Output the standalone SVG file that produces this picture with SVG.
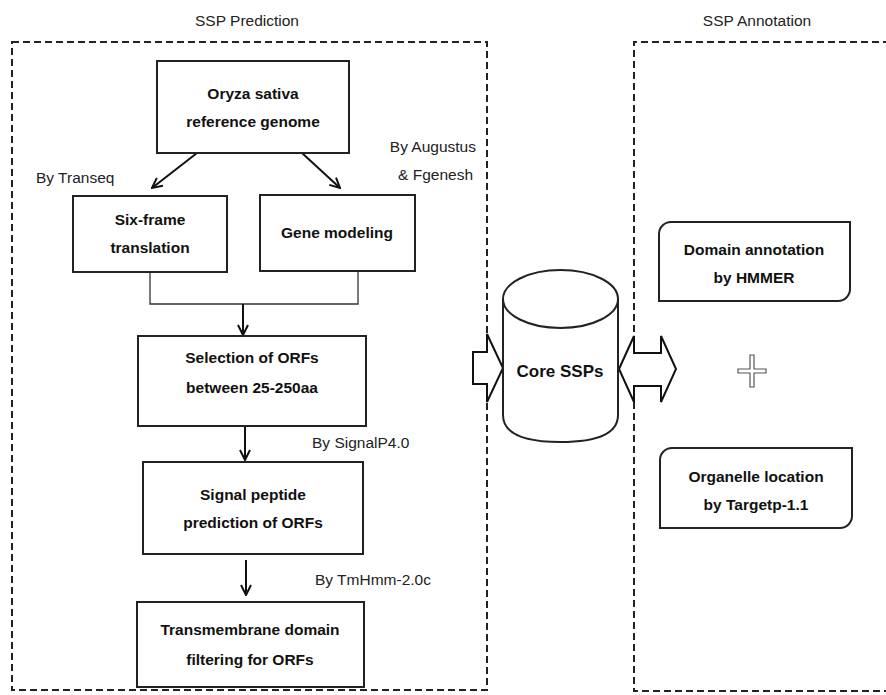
<svg xmlns="http://www.w3.org/2000/svg" width="886" height="695" viewBox="0 0 886 695">
<defs>
<style>
.t{font-family:"Liberation Sans",Arial,sans-serif;font-size:15.5px;fill:#222;}
.b{font-family:"Liberation Sans",Arial,sans-serif;font-size:15.5px;font-weight:bold;fill:#111;text-anchor:middle;}
.box{fill:#fff;stroke:#222;stroke-width:2;}
.dash{fill:none;stroke:#222;stroke-width:2;stroke-dasharray:7 4;}
.ln{fill:none;stroke:#111;stroke-width:2;}
.thin{fill:none;stroke:#333;stroke-width:1.3;}
.blk{fill:#fff;stroke:#111;stroke-width:2;stroke-linejoin:miter;}
</style>
<marker id="ah" viewBox="0 0 12 12" refX="11" refY="6" markerWidth="12" markerHeight="12" markerUnits="userSpaceOnUse" orient="auto">
<path d="M1,1 L11,6 L1,11" fill="none" stroke="#111" stroke-width="2"/>
</marker>
</defs>
<rect width="886" height="695" fill="#fff"/>

<g id="frames">
<rect class="dash" x="12" y="42" width="475" height="648"/>
<path class="dash" d="M890,42 H634 V691 H890"/>
<text class="t" x="247" y="26" text-anchor="middle">SSP Prediction</text>
<text class="t" x="757" y="26" text-anchor="middle">SSP Annotation</text>
</g>

<g id="connectors">
<line class="ln" x1="197" y1="153" x2="152" y2="188" marker-end="url(#ah)"/>
<line class="ln" x1="302" y1="153" x2="340" y2="188" marker-end="url(#ah)"/>
<path class="thin" d="M150,272 V304 H358 V271"/>
<line class="ln" x1="243" y1="304" x2="243" y2="335" marker-end="url(#ah)"/>
<line class="ln" x1="245" y1="426" x2="245" y2="460" marker-end="url(#ah)"/>
<line class="ln" x1="246" y1="560" x2="246" y2="595" marker-end="url(#ah)"/>
<path class="blk" d="M473,352 H487 V334 L503,368 L487,402 V384 H473 Z"/>
<path class="blk" d="M619,369 L634,336 V353 H661 V336 L676,369 L661,402 V386 H634 V402 Z"/>
<text class="t" x="36" y="183">By Transeq</text>
<text class="t" x="476" y="152" text-anchor="end">By Augustus</text>
<text class="t" x="473" y="180" text-anchor="end">&amp; Fgenesh</text>
<text class="t" x="312" y="448">By SignalP4.0</text>
<text class="t" x="315" y="585">By TmHmm-2.0c</text>
</g>

<g id="oryza">
<rect class="box" x="157" y="61" width="192" height="92"/>
<text class="b" x="253" y="99">Oryza sativa</text>
<text class="b" x="253" y="127">reference genome</text>
</g>

<g id="sixframe">
<rect class="box" x="73" y="196" width="154" height="76"/>
<text class="b" x="150" y="225">Six-frame</text>
<text class="b" x="150" y="253">translation</text>
</g>

<g id="genemodeling">
<rect class="box" x="260" y="195" width="155" height="76"/>
<text class="b" x="337" y="238">Gene modeling</text>
</g>

<g id="selection">
<rect class="box" x="138" y="336" width="228" height="90"/>
<text class="b" x="252" y="363">Selection of ORFs</text>
<text class="b" x="252" y="393">between 25-250aa</text>
</g>

<g id="signal">
<rect class="box" x="143" y="462" width="220" height="92"/>
<text class="b" x="253" y="500">Signal peptide</text>
<text class="b" x="253" y="528">prediction of ORFs</text>
</g>

<g id="transmembrane">
<rect class="box" x="137" y="602" width="227" height="85"/>
<text class="b" x="250" y="635">Transmembrane domain</text>
<text class="b" x="250" y="665">filtering for ORFs</text>
</g>

<g id="core">
<path class="box" d="M503,299 V415 Q503,442 560.5,442 Q618,442 618,415 V299"/>
<ellipse class="box" cx="560.5" cy="299" rx="57.5" ry="29"/>
<text class="b" x="560" y="377" style="font-size:17px">Core SSPs</text>
</g>

<g id="plus">
<path d="M750,355 H754 V369 H766 V373 H754 V387 H750 V373 H738 V369 H750 Z" fill="#fff" stroke="#555" stroke-width="1.2"/>
</g>

<g id="domain">
<path class="box" d="M671,222 H850 V289 A12,12 0 0 1 838,301 H659 V234 A12,12 0 0 1 671,222 Z"/>
<text class="b" x="754" y="255">Domain annotation</text>
<text class="b" x="754" y="283">by HMMER</text>
</g>

<g id="organelle">
<path class="box" d="M672,448 H852 V516 A12,12 0 0 1 840,528 H660 V460 A12,12 0 0 1 672,448 Z"/>
<text class="b" x="756" y="482">Organelle location</text>
<text class="b" x="756" y="510">by Targetp-1.1</text>
</g>
</svg>
